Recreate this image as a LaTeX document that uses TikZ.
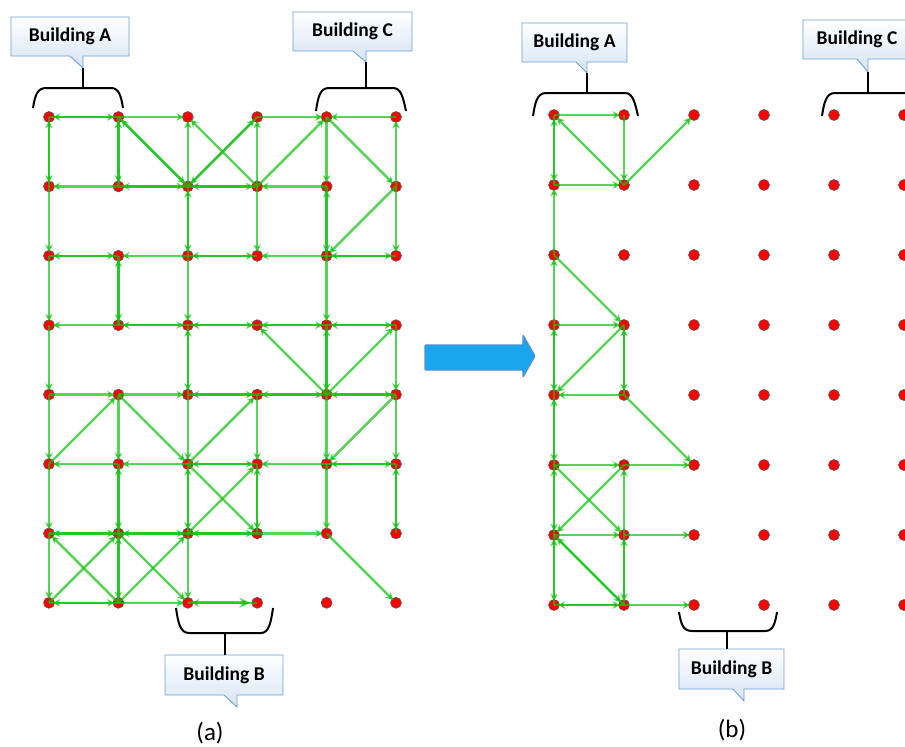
\documentclass[tikz,border=0pt]{standalone}
\usepackage{fontspec}
\setmainfont{Carlito}
\usetikzlibrary{arrows.meta}
\definecolor{ag}{RGB}{20,195,20}
\definecolor{cb}{RGB}{110,160,215}
\definecolor{cf}{RGB}{214,228,244}
\definecolor{ba}{RGB}{26,166,236}
\definecolor{bb}{RGB}{79,143,214}
\definecolor{dotline}{RGB}{90,90,90}
\tikzset{
  dot/.style={circle,minimum size=11pt,inner sep=0pt,fill=red,draw=dotline,line width=0.6pt},
  ar/.style={draw=ag,fill=ag,opacity=0.7,line width=2.4pt,-{Stealth[length=7.5pt,width=7.5pt]},shorten >=-2pt},
  callout/.style={draw=cb,line width=0.9pt,top color=white,bottom color=cf},
  brk/.style={draw=black,line width=2pt},
  lbl/.style={font=\fontsize{19.5}{22}\selectfont\bfseries,inner sep=0pt},
  captxt/.style={font=\fontsize{25}{28}\selectfont,inner sep=0pt}
}
\begin{document}
\begin{tikzpicture}[x=1pt,y=-1pt]
\clip (0,0) rectangle (905,747);
\fill[white] (0,0) rectangle (905,747);
% dots
\foreach \c in {0,...,5} \foreach \r in {0,...,7} {
  \node[dot] (L\c\r) at ({49+69.4*\c},{117+69.4*\r}) {};
  \node[dot] (R\c\r) at ({554+70*\c},{115+70*\r}) {};
}
% left grid, two-way edges
\foreach \a/\b in {L00/L10,L00/L01,L10/L11,L10/L21,L21/L30,L11/L21,L21/L31,L21/L22,L41/L42,
  L02/L12,L22/L32,L42/L52,L12/L13,L13/L23,L23/L33,L33/L43,L43/L53,L23/L24,L43/L44,
  L24/L34,L34/L44,L44/L54,L25/L35,L45/L55,L15/L16,L25/L26,L35/L36,L55/L56,
  L06/L16,L16/L26,L26/L36,L16/L17,L07/L17}
  {\draw[ar] (\a.center) -- (\b); \draw[ar] (\b.center) -- (\a);}
% left grid, one-way edges
\foreach \a/\b in {L10/L20,L30/L40,L50/L40,L21/L20,L31/L30,L40/L41,L51/L50,
  L31/L20,L31/L40,L40/L51,L51/L42,L11/L01,L41/L31,L01/L02,L31/L32,L51/L52,
  L22/L12,L42/L32,L02/L03,L22/L23,L42/L43,L13/L03,L03/L04,L53/L54,L44/L33,L44/L53,
  L04/L14,L14/L24,L04/L05,L14/L15,L24/L25,L34/L35,L44/L45,L54/L55,
  L05/L14,L14/L25,L25/L34,L54/L45,L15/L05,L25/L15,L45/L35,L05/L06,L45/L46,
  L25/L36,L26/L35,L36/L46,L17/L06,L07/L16,L17/L26,L16/L27,L06/L07,L26/L27,L17/L27,L46/L57}
  {\draw[ar] (\a.center) -- (\b);}
\draw[ar] (L37.center) -- (L27);
\draw[ar,line width=3pt,-{Stealth[length=11pt,width=10pt]},shorten >=1pt] (L27.center) -- (L37);
% right grid, two-way edges
\foreach \a/\b in {R00/R01,R03/R04,R04/R05,R05/R06,R06/R07,R13/R14,R06/R17,R16/R17,R07/R17}
  {\draw[ar] (\a.center) -- (\b); \draw[ar] (\b.center) -- (\a);}
% right grid, one-way edges
\foreach \a/\b in {R00/R10,R10/R11,R01/R11,R11/R00,R11/R20,R02/R01,R03/R02,R02/R13,R03/R13,
  R13/R04,R14/R04,R14/R25,R05/R15,R15/R25,R05/R16,R15/R06,R16/R15,R06/R16,R16/R26,R17/R27}
  {\draw[ar] (\a.center) -- (\b);}
% ---------- left callouts ----------
\path[callout] (11,17) -- (129,17) -- (129,56) -- (83,56) -- (83,68) -- (70,56) -- (11,56) -- cycle;
\node[lbl] (tLA) at (70,36.5) {Building A};
\coordinate (sLA) at (83,68);
\coordinate (bLA) at (83,88);
\draw[brk] (sLA) -- (bLA);
\draw[brk] (33,108) .. controls (35,96) and (37,88) .. (46,88) -- (111,88) .. controls (119,88) and (121,96) .. (123,108);

\path[callout] (293,12) -- (412,12) -- (412,51) -- (366,51) -- (366,62) -- (353,51) -- (293,51) -- cycle;
\node[lbl] (tLC) at (352.5,31.5) {Building C};
\coordinate (sLC) at (366,62);
\coordinate (bLC) at (366,88);
\draw[brk] (sLC) -- (bLC);
\draw[brk] (316,111) .. controls (318,97) and (320,88) .. (329,88) -- (393,88) .. controls (401,88) and (403,97) .. (406,111);

\path[callout] (165,655) -- (283,655) -- (283,695) -- (237,695) -- (237,707) -- (224,695) -- (165,695) -- cycle;
\node[lbl] (tLB) at (224,675) {Building B};
\coordinate (sLB) at (225,655);
\coordinate (bLB) at (225,633);
\draw[brk] (sLB) -- (bLB);
\draw[brk] (176,608) .. controls (178,622) and (180,633) .. (189,633) -- (261,633) .. controls (269,633) and (271,622) .. (273,608);
\node[captxt] (capa) at (210,733) {(a)};
% ---------- right callouts ----------
\path[callout] (522,23) -- (627,23) -- (627,62) -- (587,62) -- (587,73) -- (576,62) -- (522,62) -- cycle;
\node[lbl] (tRA) at (574.5,42.5) {Building A};
\coordinate (sRA) at (587,73);
\coordinate (bRA) at (587,93);
\draw[brk] (sRA) -- (bRA);
\draw[brk] (533,116) .. controls (535,103) and (537,93) .. (546,93) -- (625,93) .. controls (633,93) and (635,103) .. (638,116);

\path[callout] (803,20) -- (911,20) -- (911,59) -- (868,59) -- (868,72) -- (857,59) -- (803,59) -- cycle;
\node[lbl] (tRC) at (857,39.5) {Building C};
\coordinate (sRC) at (868,72);
\coordinate (bRC) at (868,93);
\draw[brk] (sRC) -- (bRC);
\draw[brk] (822,116) .. controls (824,103) and (826,93) .. (835,93) -- (930,93);

\path[callout] (679,649) -- (784,649) -- (784,689) -- (744,689) -- (744,701) -- (733,689) -- (679,689) -- cycle;
\node[lbl] (tRB) at (731.5,669) {Building B};
\coordinate (sRB) at (727,649);
\coordinate (bRB) at (727,631);
\draw[brk] (sRB) -- (bRB);
\draw[brk] (679,612) .. controls (681,624) and (683,631) .. (692,631) -- (765,631) .. controls (773,631) and (775,624) .. (777,612);
\node[captxt] (capb) at (732,730) {(b)};
% ---------- blue arrow ----------
\path[fill=ba,draw=bb,line width=1.2pt,rounded corners=0.8pt] (425,345) -- (523,345) -- (523,335) -- (535,356) -- (523,377) -- (523,370) -- (425,370) -- cycle;
\end{tikzpicture}
\end{document}
